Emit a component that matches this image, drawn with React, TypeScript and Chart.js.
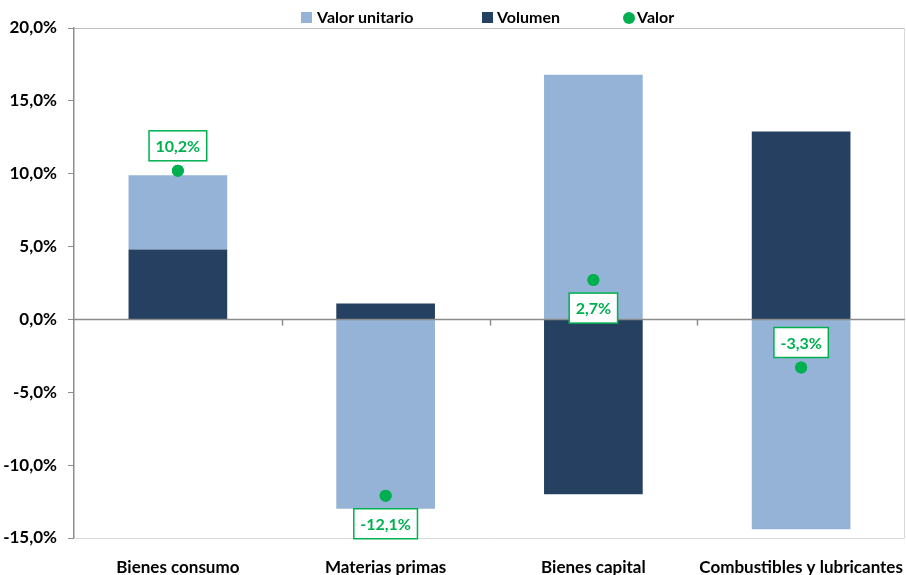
import React, { useEffect, useRef } from "react";
import { Chart, registerables } from "chart.js";

Chart.register(...registerables);

const categories = ["Bienes consumo", "Materias primas", "Bienes capital", "Combustibles y lubricantes"];
const valorUnitario = [5.1, -13.0, 16.8, -14.4];
const volumen = [4.8, 1.1, -12.0, 12.9];
const valor = [10.2, -12.1, 2.7, -3.3];
const valorLabelSide = ["above", "below", "below", "above"];
const yTicks = { min: -15, max: 20, step: 5 };

const LIGHT = "#95B3D7";
const DARK = "#254061";
const GREEN = "#00B050";
const FONT = 'Lato, "Open Sans", sans-serif';

const fmt = (v: number) => v.toFixed(1).replace(".", ",") + "%";

export default function App() {
  const ref = useRef<HTMLCanvasElement | null>(null);
  useEffect(() => {
    document.body.style.margin = "0";
    const canvas = ref.current!;
    const decor = {
      id: "decor",
      beforeDatasetsDraw(chart: any) {
        const { ctx, chartArea: a } = chart;
        ctx.save();
        ctx.strokeStyle = "#BFBFBF";
        ctx.lineWidth = 1;
        ctx.beginPath();
        ctx.moveTo(a.left, Math.round(a.top) + 0.5);
        ctx.lineTo(a.right, Math.round(a.top) + 0.5);
        ctx.stroke();
        ctx.strokeStyle = "#D9D9D9";
        ctx.beginPath();
        ctx.moveTo(a.left, Math.round(a.bottom) + 0.5);
        ctx.lineTo(a.right - 0.5, Math.round(a.bottom) + 0.5);
        ctx.lineTo(a.right - 0.5, a.top);
        ctx.stroke();
        ctx.restore();
      },
      afterDatasetsDraw(chart: any) {
        const { ctx, chartArea: a, scales } = chart;
        const y0 = Math.round(scales.y.getPixelForValue(0)) + 0.5;
        ctx.save();
        ctx.strokeStyle = "#8C8C8C";
        ctx.lineWidth = 1.5;
        ctx.beginPath();
        ctx.moveTo(a.left, y0);
        ctx.lineTo(a.right, y0);
        const n = categories.length;
        const w = (a.right - a.left) / n;
        for (let i = 1; i < n; i++) {
          const x = Math.round(a.left + w * i) + 0.5;
          ctx.moveTo(x, y0);
          ctx.lineTo(x, y0 + 6);
        }
        ctx.stroke();
        const meta = chart.getDatasetMeta(2);
        ctx.font = `bold 16px ${FONT}`;
        ctx.textAlign = "center";
        ctx.textBaseline = "middle";
        meta.data.forEach((pt: any, i: number) => {
          ctx.fillStyle = GREEN;
          ctx.beginPath();
          ctx.arc(pt.x, pt.y, 6, 0, Math.PI * 2);
          ctx.fill();
          const txt = fmt(valor[i]);
          const tw = ctx.measureText(txt).width;
          const bw = tw + 13;
          const bh = 30;
          const cy = valorLabelSide[i] === "above" ? pt.y - 25 : pt.y + 28;
          ctx.fillStyle = "#FFFFFF";
          ctx.fillRect(pt.x - bw / 2, cy - bh / 2, bw, bh);
          ctx.strokeStyle = GREEN;
          ctx.lineWidth = 1.5;
          ctx.strokeRect(pt.x - bw / 2, cy - bh / 2, bw, bh);
          ctx.fillStyle = GREEN;
          ctx.fillText(txt, pt.x, cy + 1);
        });
        const ly = 18;
        ctx.textAlign = "left";
        ctx.fillStyle = LIGHT;
        ctx.fillRect(301, ly - 6, 11, 11);
        ctx.fillStyle = "#000";
        ctx.fillText("Valor unitario", 317, ly);
        ctx.fillStyle = DARK;
        ctx.fillRect(482, ly - 6, 11, 11);
        ctx.fillStyle = "#000";
        ctx.fillText("Volumen", 497, ly);
        ctx.fillStyle = GREEN;
        ctx.beginPath();
        ctx.arc(629, ly, 6, 0, Math.PI * 2);
        ctx.fill();
        ctx.fillStyle = "#000";
        ctx.fillText("Valor", 637, ly);
        ctx.restore();
      },
    };
    const chart = new Chart(canvas, {
      type: "bar",
      data: {
        labels: categories,
        datasets: [
          { label: "Volumen", data: volumen, backgroundColor: DARK, stack: "a", order: 1 } as any,
          { label: "Valor unitario", data: valorUnitario, backgroundColor: LIGHT, stack: "a", order: 1 } as any,
          {
            type: "line",
            label: "Valor",
            data: valor,
            stack: "v",
            showLine: false,
            pointRadius: 6,
            pointHoverRadius: 6,
            pointBackgroundColor: GREEN,
            pointBorderWidth: 0,
            borderColor: GREEN,
            order: 0,
          } as any,
        ],
      },
      options: {
        responsive: false,
        animation: false,
        layout: { autoPadding: false, padding: { top: 28, right: 1, left: 0, bottom: 0 } },
        plugins: { legend: { display: false }, tooltip: { enabled: false } },
        datasets: { bar: { categoryPercentage: 1, barPercentage: 0.475 } },
        scales: {
          x: {
            stacked: true,
            grid: {
              display: true,
              drawOnChartArea: false,
              drawTicks: true,
              tickLength: 19,
              tickColor: "rgba(0,0,0,0)",
              color: "rgba(0,0,0,0)",
            },
            border: { display: false },
            ticks: {
              color: "#000",
              font: { family: FONT, size: 17, weight: "bold" },
              padding: 0,
              maxRotation: 0,
              minRotation: 0,
              autoSkip: false,
            },
            afterFit(s: any) {
              s.height = 37;
              s.paddingLeft = 0;
              s.paddingRight = 0;
            },
          },
          y: {
            stacked: true,
            min: yTicks.min,
            max: yTicks.max,
            grid: {
              drawOnChartArea: false,
              drawTicks: true,
              tickLength: 6,
              tickColor: "#8C8C8C",
            },
            border: { display: true, color: "#8C8C8C", width: 1.5 },
            ticks: {
              stepSize: yTicks.step,
              color: "#000",
              padding: 11,
              font: { family: FONT, size: 17, weight: "bold" },
              callback: (v: any) => fmt(Number(v)),
            },
            afterFit(s: any) {
              s.width = 74;
            },
          },
        },
      } as any,
      plugins: [decor],
    });
    return () => chart.destroy();
  }, []);
  return <canvas ref={ref} width={906} height={575} style={{ display: "block" }} />;
}
